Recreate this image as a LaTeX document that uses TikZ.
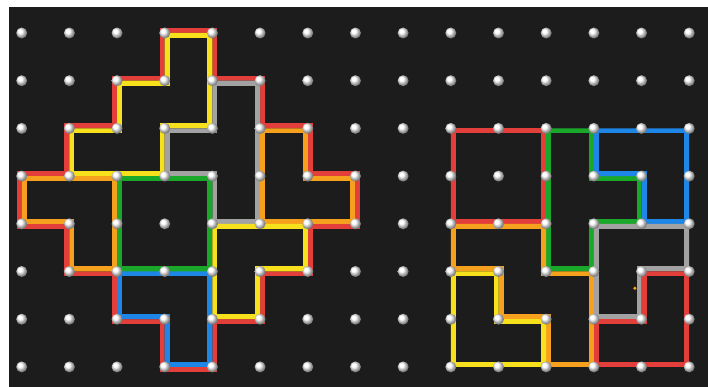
\documentclass[tikz,border=0pt]{standalone}
\definecolor{bgc}{HTML}{1C1C1C}
\definecolor{cred}{HTML}{E23E3A}
\definecolor{cyel}{HTML}{F6E11C}
\definecolor{corg}{HTML}{F5A11E}
\definecolor{cgrn}{HTML}{1AA82A}
\definecolor{cblu}{HTML}{1E86E6}
\definecolor{cgry}{HTML}{A2A2A2}
\newcommand\band[2]{\begin{scope}\clip #2; \draw[bandline,#1] #2;\end{scope}}
\begin{document}
\begin{tikzpicture}[x=47.68pt,y=-47.7pt,line join=miter,
  bandline/.style={line width=10pt},
  peg/.style={ball color=white}]
\fill[white] (-0.4551,-0.6918) rectangle (14.3941,7.4214);
\useasboundingbox (-0.4551,-0.6918) rectangle (14.3941,7.4214);
\fill[bgc] (-0.2664,-0.5451) rectangle (14.3941,7.4214);
% left figure: red outline
\draw[bandline,cred] (3,0) -- (4,0) -- (4,1) -- (5,1) -- (5,2) -- (6,2) -- (6,3) -- (7,3) -- (7,4) -- (6,4) -- (6,5) -- (5,5) -- (5,6) -- (4,6) -- (4,7) -- (3,7) -- (3,6) -- (2,6) -- (2,5) -- (1,5) -- (1,4) -- (0,4) -- (0,3) -- (1,3) -- (1,2) -- (2,2) -- (2,1) -- (3,1) -- cycle;
\fill[bgc] (3,0) -- (4,0) -- (4,1) -- (5,1) -- (5,2) -- (6,2) -- (6,3) -- (7,3) -- (7,4) -- (6,4) -- (6,5) -- (5,5) -- (5,6) -- (4,6) -- (4,7) -- (3,7) -- (3,6) -- (2,6) -- (2,5) -- (1,5) -- (1,4) -- (0,4) -- (0,3) -- (1,3) -- (1,2) -- (2,2) -- (2,1) -- (3,1) -- cycle;
% left pieces
\band{cyel}{(3,0) -- (4,0) -- (4,2) -- (3,2) -- (3,3) -- (1,3) -- (1,2) -- (2,2) -- (2,1) -- (3,1) -- cycle}
\band{cgry}{(4,1) -- (5,1) -- (5,4) -- (4,4) -- (4,3) -- (3,3) -- (3,2) -- (4,2) -- cycle}
\band{corg}{(5,2) -- (6,2) -- (6,3) -- (7,3) -- (7,4) -- (5,4) -- cycle}
\band{corg}{(0,3) -- (2,3) -- (2,5) -- (1,5) -- (1,4) -- (0,4) -- cycle}
\band{cgrn}{(2,3) -- (4,3) -- (4,5) -- (2,5) -- cycle}
\band{cblu}{(2,5) -- (4,5) -- (4,7) -- (3,7) -- (3,6) -- (2,6) -- cycle}
\band{cyel}{(4,4) -- (6,4) -- (6,5) -- (5,5) -- (5,6) -- (4,6) -- cycle}
% right pieces
\band{cred}{(9,2) -- (11,2) -- (11,4) -- (9,4) -- cycle}
\band{cgrn}{(11,2) -- (12,2) -- (12,3) -- (13,3) -- (13,4) -- (12,4) -- (12,5) -- (11,5) -- cycle}
\band{cblu}{(12,2) -- (14,2) -- (14,4) -- (13,4) -- (13,3) -- (12,3) -- cycle}
\band{cgry}{(12,4) -- (14,4) -- (14,5) -- (13,5) -- (13,6) -- (12,6) -- cycle}
\band{cred}{(13,5) -- (14,5) -- (14,7) -- (12,7) -- (12,6) -- (13,6) -- cycle}
\band{corg}{(9,4) -- (11,4) -- (11,5) -- (12,5) -- (12,7) -- (11,7) -- (11,6) -- (10,6) -- (10,5) -- (9,5) -- cycle}
\band{cyel}{(9,5) -- (10,5) -- (10,6) -- (11,6) -- (11,7) -- (9,7) -- cycle}
\fill[corg] (12.86,5.35) circle[radius=1.8pt];
% pegs
\foreach \c in {0,...,14}{\foreach \r in {0,...,7}{\shade[peg] (\c,\r) circle[radius=5.5pt];}}
\end{tikzpicture}
\end{document}
